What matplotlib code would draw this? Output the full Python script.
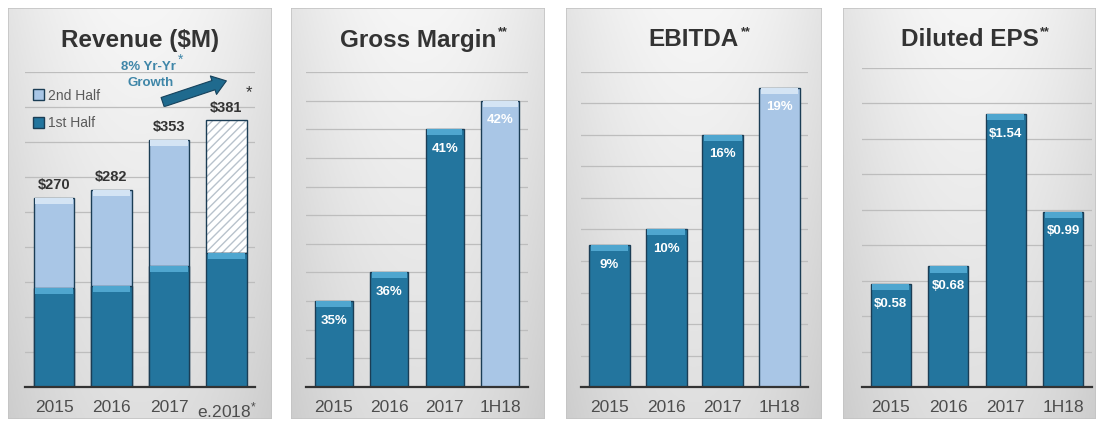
import numpy as np
import matplotlib.pyplot as plt
from matplotlib.patches import Rectangle, Patch, FancyArrowPatch

plt.rcParams['font.family'] = ['Liberation Sans', 'DejaVu Sans']
plt.rcParams['mathtext.default'] = 'regular'

# data
years = ['2015', '2016', '2017', 'e.2018$^{*}$']
rev_total = [270, 282, 353, 381]
rev_first = [141, 144, 173, 192]
rev_labels = ['$270', '$282', '$353', '$381']

periods = ['2015', '2016', '2017', '1H18']
gross_margin = [35, 36, 41, 42]
ebitda = [9, 10, 16, 19]
eps = [0.58, 0.68, 1.54, 0.99]
gm_labels = ['35%', '36%', '41%', '42%']
ebitda_labels = ['9%', '10%', '16%', '19%']
eps_labels = ['$0.58', '$0.68', '$1.54', '$0.99']

W, H = 1096, 423
DARK = '#23759e'
CAP = '#4fa6cf'
LIGHT = '#a9c6e6'
LCAP = '#d4e4f4'
EDGE = '#1b3d55'
GRID = '#bdbdbd'

fig = plt.figure(figsize=(W / 100, H / 100), dpi=100)
fig.patch.set_facecolor('white')


def rect(x0, y0, x1, y1):
    return [x0 / W, 1 - y1 / H, (x1 - x0) / W, (y1 - y0) / H]


def panel_bg(x0, x1):
    bg = fig.add_axes(rect(x0, 8, x1, 419), zorder=0)
    ty = np.linspace(0, 1, 200)[:, None]
    tx = np.linspace(-1, 1, 100)[None, :]
    v = 0.965 - 0.09 * ty - 0.07 * tx ** 2
    img = np.dstack([v, v, v])
    bg.imshow(img, extent=[0, 1, 0, 1], aspect='auto')
    bg.add_patch(Rectangle((0, 0), 1, 1, transform=bg.transAxes, fill=False,
                           edgecolor='#c4c4c4', lw=1.2))
    bg.set_axis_off()


def chart_ax(x0, x1, y_top, ylim, step):
    ax = fig.add_axes(rect(x0, y_top, x1, 387), zorder=1)
    ax.set_facecolor('none')
    ax.set_xlim(-0.5, 3.5)
    ax.set_ylim(*ylim)
    ax.set_yticks(np.arange(ylim[0], ylim[1] + step / 2, step))
    ax.yaxis.grid(True, color=GRID, lw=0.9)
    ax.set_axisbelow(True)
    for s in ['left', 'right', 'top']:
        ax.spines[s].set_visible(False)
    ax.spines['bottom'].set_color('#333333')
    ax.spines['bottom'].set_linewidth(1.6)
    ax.tick_params(axis='y', left=False, labelleft=False)
    ax.tick_params(axis='x', bottom=False, labelsize=12.5, labelcolor='#4d4d4d', pad=6)
    return ax


def capped_bars(ax, x, tops, width, color, cap_color, bottom=None):
    span = ax.get_ylim()[1] - ax.get_ylim()[0]
    cap = span * 6 / 315
    tops = np.asarray(tops, dtype=float)
    base = np.zeros_like(tops) if bottom is None else np.asarray(bottom, dtype=float)
    ax.bar(x, tops - base, bottom=base, width=width, color=color, edgecolor=EDGE, lw=1.0)
    ax.bar(x, [cap] * len(tops), bottom=tops - cap, width=width * 0.92,
           color=cap_color, lw=0)


def title(ax_x0, ax_x1, text, stars):
    cx = (ax_x0 + ax_x1) / 2 / W
    t = fig.text(cx, 1 - 40 / H, text, ha='center', va='center', fontsize=17.5,
                 fontweight='bold', color='#333333', zorder=5)
    if stars:
        fig.add_artist(plt.Annotation('**', xy=(1, 1), xycoords=t, xytext=(1, 2),
                                      textcoords='offset points', ha='left', va='top',
                                      fontsize=9, fontweight='bold', color='#333333'))


for a, b in [(8, 272), (291, 545), (566, 822), (843, 1096)]:
    panel_bg(a, b)

x = np.arange(4)

# Revenue
ax1 = chart_ax(25.25, 255.25, 72, (0, 450), 50)
capped_bars(ax1, x[:3], rev_total[:3], 0.7, LIGHT, LCAP)
ax1.bar(x[3], rev_total[3] - rev_first[3], bottom=rev_first[3], width=0.7,
        color='white', edgecolor='#b8c2cc', hatch='////', lw=0)
ax1.bar(x[3], rev_total[3] - rev_first[3], bottom=rev_first[3], width=0.7,
        fill=False, edgecolor=EDGE, lw=1.0)
capped_bars(ax1, x, rev_first, 0.7, DARK, CAP)
for i, lab in enumerate(rev_labels):
    ax1.annotate(lab, (x[i], rev_total[i]), xytext=(0, 4), textcoords='offset points',
                 ha='center', va='bottom', fontsize=10.5, fontweight='bold', color='#333333')
ax1.set_xticks(x, years)
title(8, 272, 'Revenue ($M)', False)
leg = ax1.legend(handles=[Patch(facecolor=LIGHT, edgecolor=EDGE, label='2nd Half'),
                          Patch(facecolor=DARK, edgecolor=EDGE, label='1st Half')],
                 loc='upper left', bbox_to_anchor=(20 / W, 1 - 76 / H),
                 bbox_transform=fig.transFigure, frameon=False, fontsize=10,
                 handlelength=0.8, handleheight=0.8, handletextpad=0.3,
                 labelspacing=1.0, labelcolor='#5a5a5a')
fig.text(148 / W, 1 - 67 / H, '8% Yr-Yr', ha='center', va='center', fontsize=9.5,
         fontweight='bold', color='#3f86a8')
fig.text(181 / W, 1 - 60 / H, '*', ha='center', va='center', fontsize=10,
         color='#3f86a8')
fig.text(151 / W, 1 - 83 / H, 'Growth', ha='center', va='center', fontsize=9.5,
         fontweight='bold', color='#3f86a8')
fig.add_artist(FancyArrowPatch((160 / W, 1 - 103 / H), (229 / W, 1 - 80 / H),
                               transform=fig.transFigure,
                               arrowstyle='simple,head_length=0.7,head_width=1.0,tail_width=0.5',
                               mutation_scale=14, facecolor='#1f6a8e', edgecolor='#16425c',
                               lw=0.8))
fig.text(249 / W, 1 - 93 / H, '*', ha='center', va='center', fontsize=12, color='#333333')


def inside_labels(ax, vals, labels):
    for i, lab in enumerate(labels):
        ax.annotate(lab, (x[i], vals[i]), xytext=(0, -14), textcoords='offset points',
                    ha='center', va='center', fontsize=9.5, fontweight='bold', color='white')


# Gross margin
ax2 = chart_ax(306, 528, 72, (32, 43), 1)
capped_bars(ax2, x[:3], gross_margin[:3], 0.68, DARK, CAP)
capped_bars(ax2, x[3:], gross_margin[3:], 0.68, LIGHT, LCAP)
inside_labels(ax2, gross_margin, gm_labels)
ax2.set_xticks(x, periods)
title(291, 545, 'Gross Margin', True)

# EBITDA
ax3 = chart_ax(581, 808, 72, (0, 20), 2)
capped_bars(ax3, x[:3], ebitda[:3], 0.72, DARK, CAP)
capped_bars(ax3, x[3:], ebitda[3:], 0.72, LIGHT, LCAP)
inside_labels(ax3, ebitda, ebitda_labels)
ax3.set_xticks(x, periods)
title(566, 822, 'EBITDA', True)

# Diluted EPS
ax4 = chart_ax(862, 1092, 68, (0, 1.8), 0.2)
capped_bars(ax4, x, eps, 0.7, DARK, CAP)
inside_labels(ax4, eps, eps_labels)
ax4.set_xticks(x, periods)
title(843, 1096, 'Diluted EPS', True)

fig.savefig('out.png', dpi=100)
